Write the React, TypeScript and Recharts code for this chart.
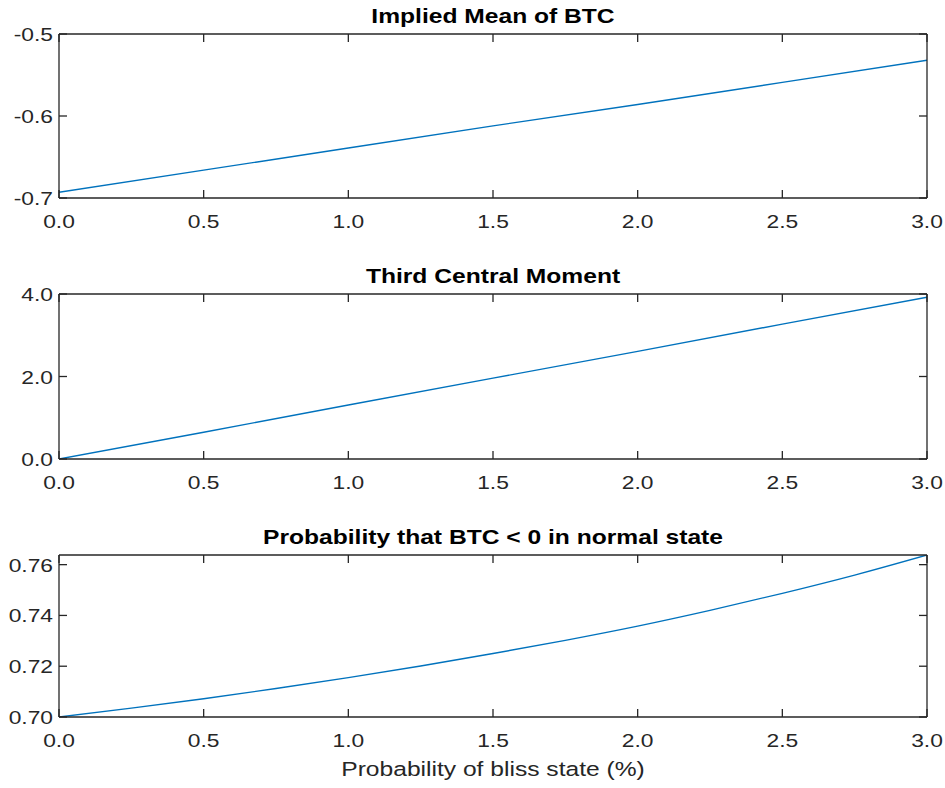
import { LineChart, Line, XAxis, YAxis } from "recharts";

// probability of bliss state (%), x values
const bliss = [0, 0.5, 1.0, 1.5, 2.0, 2.5, 3.0];
const impliedMean = [-0.693, -0.666, -0.639, -0.612, -0.586, -0.559, -0.532];
const thirdMoment = [0, 0.65, 1.31, 1.96, 2.61, 3.27, 3.92];

const blissFine = [0, 0.25, 0.5, 0.75, 1.0, 1.25, 1.5, 1.75, 2.0, 2.25, 2.5, 2.75, 3.0];
const probNegative = [0.7, 0.7035, 0.7072, 0.7112, 0.7155, 0.7201, 0.725, 0.7302, 0.7358, 0.742, 0.7487, 0.7559, 0.7638];

const xTicks = [0, 0.5, 1.0, 1.5, 2.0, 2.5, 3.0];

const INK = "#262626";
const BLUE = "#0072BD";
const FONT = "'Liberation Sans', Arial, sans-serif";
const STRETCH = 1.2; // the reference text is wider than it is tall

type Panel = {
  title: string;
  data: { x: number; y: number }[];
  yDomain: [number, number];
  yTicks: number[];
  digits: number;
  smooth: boolean;
  top: number;
  height: number;
  marginTop: number;
  marginBottom: number;
  xLabel?: string;
};

const rows = (xs: number[], ys: number[]) => xs.map((x, i) => ({ x, y: ys[i] }));

const panels: Panel[] = [
  { title: "Implied Mean of BTC", data: rows(bliss, impliedMean), yDomain: [-0.7, -0.5],
    yTicks: [-0.7, -0.6, -0.5], digits: 1, smooth: false, top: 0, height: 260, marginTop: 34, marginBottom: 62 },
  { title: "Third Central Moment", data: rows(bliss, thirdMoment), yDomain: [0, 4],
    yTicks: [0, 2, 4], digits: 1, smooth: false, top: 260, height: 260, marginTop: 34, marginBottom: 61 },
  { title: "Probability that BTC < 0 in normal state", data: rows(blissFine, probNegative), yDomain: [0.7, 0.7638],
    yTicks: [0.7, 0.72, 0.74, 0.76], digits: 2, smooth: true, top: 520, height: 268, marginTop: 35, marginBottom: 71,
    xLabel: "Probability of bliss state (%)" },
];

const PLOT_LEFT = 59;
const PLOT_RIGHT = 18;
const TICK = 8;

const BottomTick = (p: any) => (
  <g>
    <line x1={p.x} x2={p.x} y1={p.y} y2={p.y - TICK} stroke={INK} strokeWidth={1.3} />
    <text transform={`translate(${p.x},${p.y + 30}) scale(${STRETCH},1)`} textAnchor="middle"
      fill={INK} fontSize={19} fontFamily={FONT}>
      {Number(p.payload.value).toFixed(1)}
    </text>
  </g>
);

// top axis sits in a 1px band, its line is at the bottom of that band
const TopTick = (p: any) => (
  <line x1={p.x} x2={p.x} y1={p.y} y2={p.y + TICK} stroke={INK} strokeWidth={1.3} />
);

const makeLeftTick = (digits: number) => (p: any) => (
  <g>
    <line x1={p.x} x2={p.x + TICK} y1={p.y} y2={p.y} stroke={INK} strokeWidth={1.3} />
    <text transform={`translate(${p.x - 6},${p.y + 7}) scale(${STRETCH},1)`} textAnchor="end"
      fill={INK} fontSize={19} fontFamily={FONT}>
      {Number(p.payload.value).toFixed(digits)}
    </text>
  </g>
);

const RightTick = (p: any) => (
  <line x1={p.x} x2={p.x - TICK} y1={p.y} y2={p.y} stroke={INK} strokeWidth={1.3} />
);

function PanelChart({ panel }: { panel: Panel }) {
  const axisLine = { stroke: INK, strokeWidth: 1.3 };
  const textBox = {
    position: "absolute" as const, left: PLOT_LEFT, width: 945 - PLOT_LEFT - PLOT_RIGHT,
    textAlign: "center" as const, fontFamily: FONT, fontSize: 20.5, transform: `scaleX(${STRETCH})`,
    whiteSpace: "nowrap" as const, lineHeight: "24px",
  };
  return (
    <div style={{ position: "absolute", left: 0, top: panel.top, width: 945, height: panel.height }}>
      <div style={{ ...textBox, top: panel.marginTop - 30, fontWeight: "bold", color: "#000" }}>
        {panel.title}
      </div>
      <LineChart width={945} height={panel.height} data={panel.data}
        margin={{ top: panel.marginTop - 1, right: PLOT_RIGHT - 1, left: 0, bottom: 0 }}>
        <XAxis dataKey="x" type="number" domain={[0, 3]} ticks={xTicks} interval={0}
          height={panel.marginBottom} tickSize={0} tickMargin={0} tickLine={false}
          axisLine={axisLine} tick={BottomTick} allowDataOverflow />
        <XAxis xAxisId="top" orientation="top" dataKey="x" type="number" domain={[0, 3]} ticks={xTicks}
          interval={0} height={1} tickSize={0} tickMargin={0} tickLine={false}
          axisLine={axisLine} tick={TopTick} allowDataOverflow />
        <YAxis type="number" domain={panel.yDomain} ticks={panel.yTicks} interval={0} width={PLOT_LEFT}
          tickSize={0} tickMargin={0} tickLine={false} axisLine={axisLine}
          tick={makeLeftTick(panel.digits)} allowDataOverflow />
        <YAxis yAxisId="right" orientation="right" type="number" domain={panel.yDomain} ticks={panel.yTicks}
          interval={0} width={1} tickSize={0} tickMargin={0} tickLine={false} axisLine={axisLine}
          tick={RightTick} allowDataOverflow />
        {/* invisible copy so the mirrored box axes get drawn */}
        <Line xAxisId="top" yAxisId="right" dataKey="y" stroke="none" dot={false}
          activeDot={false} legendType="none" isAnimationActive={false} />
        <Line dataKey="y" type={panel.smooth ? "monotone" : "linear"} stroke={BLUE} strokeWidth={1.4}
          dot={false} isAnimationActive={false} />
      </LineChart>
      {panel.xLabel && (
        <div style={{ ...textBox, top: panel.height - 31, color: INK }}>
          {panel.xLabel}
        </div>
      )}
    </div>
  );
}

export default function App() {
  return (
    <div style={{ position: "absolute", left: 0, top: 0, width: 945, height: 788, background: "#fff" }}>
      {panels.map(p => <PanelChart key={p.title} panel={p} />)}
    </div>
  );
}
